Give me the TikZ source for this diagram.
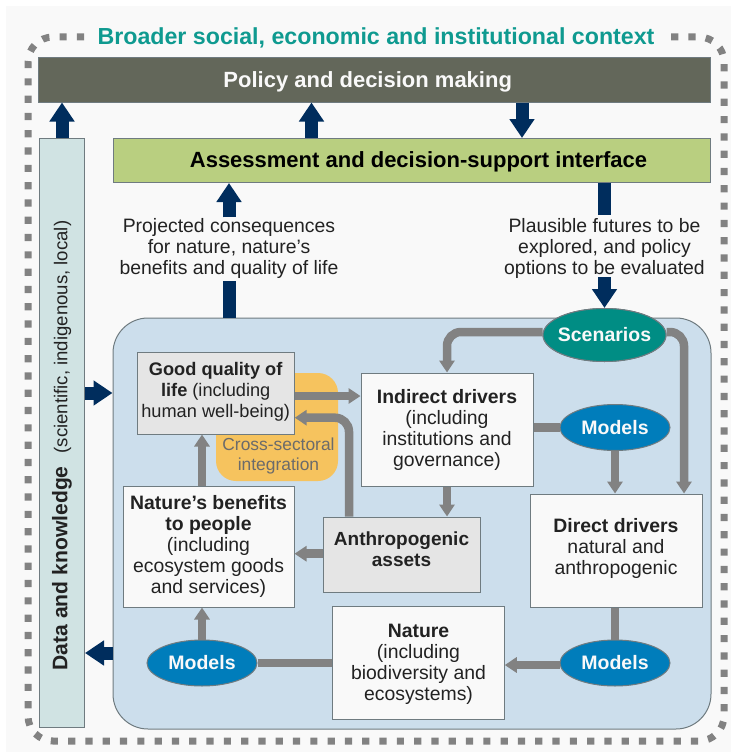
\documentclass[tikz,border=0pt]{standalone}
\usepackage{fontspec}
\setmainfont{Liberation Sans}
\usetikzlibrary{arrows.meta,shapes.geometric,calc}
\definecolor{bgc}{HTML}{F9F9F9}
\definecolor{navy}{HTML}{002D5D}
\definecolor{teal1}{HTML}{008D84}
\definecolor{blue1}{HTML}{007DBB}
\definecolor{panelc}{HTML}{CCDEEC}
\definecolor{greyl}{HTML}{828282}
\definecolor{edgec}{HTML}{6F7B80}
\definecolor{policyc}{HTML}{63675A}
\definecolor{assessc}{HTML}{B9CF80}
\definecolor{datac}{HTML}{D0E3E3}
\definecolor{orangec}{HTML}{F6C35E}
\definecolor{textc}{HTML}{222222}
\definecolor{titlec}{HTML}{0F9A90}
\tikzset{
  body/.style={font=\fontsize{19.4}{21}\selectfont,text=textc,align=center,inner sep=0pt},
  box/.style={body,draw=edgec,line width=1pt,fill=bgc,rectangle},
  greybox/.style={box,fill=black!10},
  bar/.style={draw=edgec,line width=1pt,rectangle,inner sep=0pt,font=\fontsize{22}{24}\selectfont\bfseries},
  oval/.style={ellipse,draw=edgec,line width=1pt,inner sep=-8pt,text=bgc,font=\fontsize{19.5}{21}\selectfont\bfseries},
  navyarrow/.style={draw=navy,line width=13pt,-{Triangle[length=19pt,width=24pt]}},
  navyline/.style={draw=navy,line width=13pt},
  greyarrow/.style={draw=greyl,line width=8.5pt,-{Triangle[length=12pt,width=15pt]}},
  greyline/.style={draw=greyl,line width=8.5pt},
  frame/.style={draw=greyl,line width=7pt,dash pattern=on 7.2pt off 10.1pt}
}
\begin{document}
\begin{tikzpicture}[x=1pt,y=-1pt]
\useasboundingbox (0,0) rectangle (731,752);
\fill[bgc] (6,6) rectangle (731,752);
% outer dotted frame
\draw[frame,rounded corners=25pt] (84,37) -- (28,37) -- (28,741) -- (724,741) -- (724,37) -- (668,37);
\node[font=\fontsize{23.2}{26}\selectfont\bfseries,text=titlec,inner sep=0pt] (title) at (376,37.5) {Broader social, economic and institutional context};
% main bars
\node[bar,fill=policyc,text=bgc,minimum width=672pt,minimum height=44pt] (policy) at (374.2,80) {\rule{0pt}{19pt}Policy and decision making\hspace*{13pt}};
\node[bar,fill=assessc,text=black,minimum width=597pt,minimum height=44pt] (assess) at (411.5,160.5) {\rule{0pt}{18pt}\hspace*{14pt}Assessment and decision-support interface};
\node[bar,rotate=90,fill=datac,text=textc,minimum width=589.5pt,minimum height=45pt,font=\mdseries] (data) at (62,433.2) {{\fontsize{21.1}{24}\selectfont\bfseries Data and knowledge}\hspace{13pt}{\fontsize{18.6}{21}\selectfont (scientific, indigenous, local)}\hspace*{24.6pt}};
% panel
\node[draw=edgec,line width=1pt,fill=panelc,rounded corners=35pt,minimum width=598pt,minimum height=411pt,inner sep=0pt] (panel) at (412,523.5) {};
\node[fill=orangec,rounded corners=20pt,minimum width=122pt,minimum height=108pt,inner sep=0pt] (orange) at (277,427) {};
\node[font=\fontsize{17.4}{20}\selectfont,text=black!58,align=center,inner sep=0pt] (cross) at (278.5,456) {Cross-sectoral\\integration};
% labels
\node[body] (proj) at (229,248) {Projected consequences\\for nature, nature’s\\benefits and quality of life};
\node[body] (plaus) at (604.5,248) {Plausible futures to be\\explored, and policy\\options to be evaluated};
% boxes
\node[greybox,minimum width=157pt,minimum height=82pt,font=\fontsize{18.2}{21}\selectfont] (qol) at (215.7,393) {\textbf{Good quality of}\\\textbf{life} (including\\human well-being)\rule[-7pt]{0pt}{7pt}};
\node[box,minimum width=171pt,minimum height=121pt] (benefits) at (208.5,546.5) {\textbf{Nature’s benefits}\\\textbf{to people}\\(including\\ecosystem goods\\and services)};
\node[greybox,minimum width=157pt,minimum height=75pt,font=\fontsize{19}{21}\selectfont\bfseries] (assets) at (401.5,554.5) {Anthropogenic\\assets\rule[-10pt]{0pt}{10pt}};
\node[box,minimum width=172pt,minimum height=113pt] (indirect) at (447,429.5) {\textbf{Indirect drivers}\\(including\\institutions and\\governance)};
\node[box,minimum width=172pt,minimum height=113pt] (direct) at (616,550.5) {\textbf{Direct drivers}\\natural and\\anthropogenic\rule[-9pt]{0pt}{9pt}};
\node[box,minimum width=171.5pt,minimum height=113pt] (nature) at (418.5,662.5) {\rule{0pt}{18pt}\textbf{Nature}\\(including\\biodiversity and\\ecosystems)};
% ovals (named first, drawn again over the connectors)
\node[oval,fill=teal1,minimum width=123pt,minimum height=53pt] (scen) at (604.5,335) {Scenarios};
\node[oval,fill=blue1,minimum width=110pt,minimum height=46pt] (mbl) at (202,663) {Models};
\node[oval,fill=blue1,minimum width=110pt,minimum height=46pt] (mmid) at (615,427.5) {Models};
\node[oval,fill=blue1,minimum width=110pt,minimum height=46pt] (mbr) at (615,663) {Models};
% grey connectors
\coordinate (rowQ) at (0,396);
\coordinate (rowR) at (0,417.7);
\coordinate (rowS) at (0,332);
\coordinate (colR) at (684,0);
\draw[greyarrow] (qol.east |- rowQ) -- (indirect.west |- rowQ);
\draw[greyarrow,rounded corners=14pt] (assets.north -| 349,0) -- (349,417.7) -- (qol.east |- rowR);
\draw[greyarrow] (benefits.north -| mbl.north) -- (qol.south -| mbl.north);
\draw[greyarrow] (assets.west |- 0,553.7) -- (benefits.east |- 0,553.7);
\draw[greyarrow] (mbl.north) -- (benefits.south -| mbl.north);
\draw[greyarrow] (indirect.south) -- (indirect.south |- assets.north);
\draw[greyline] (indirect.east |- mmid.west) -- (mmid.west);
\draw[greyarrow] (mmid.south) -- (direct.north -| mmid.south);
\draw[greyline] (direct.south -| mbr.north) -- (mbr.north);
\draw[greyline] (mbl.east) -- (nature.west |- mbl.east);
\draw[greyarrow] (mbr.west |- 0,665) -- (nature.east |- 0,665);
\draw[greyarrow,rounded corners=14pt] (scen.west |- rowS) -- (447,332) -- (indirect.north);
\draw[greyarrow,rounded corners=14pt] (scen.east |- rowS) -- (colR |- rowS) -- (colR |- direct.north);
% ovals over the connector ends
\node[oval,fill=teal1,minimum width=123pt,minimum height=53pt] at (scen) {Scenarios};
% navy arrows
\draw[navyarrow] (data.east) -- (policy.south -| data.east);
\draw[navyarrow] (assess.north -| 311.5,0) -- (policy.south -| 311.5,0);
\draw[navyarrow] (policy.south -| 522,0) -- (assess.north -| 522,0);
\draw[navyarrow] (proj.north) ++(0,-0.5) -- (assess.south -| proj.north);
\draw[navyline] (panel.north -| proj.south) -- ($(proj.south)+(0,3)$);
\draw[navyline] (assess.south -| plaus.north) -- ($(plaus.north)+(0,-3)$);
\draw[navyarrow] ($(plaus.south)+(0,-1)$) -- (scen.north -| plaus.south);
\draw[navyarrow] (data.south |- 0,393) -- (panel.west |- 0,393);
\draw[navyarrow] (panel.west |- 0,653) -- (data.south |- 0,653);
\end{tikzpicture}
\end{document}
